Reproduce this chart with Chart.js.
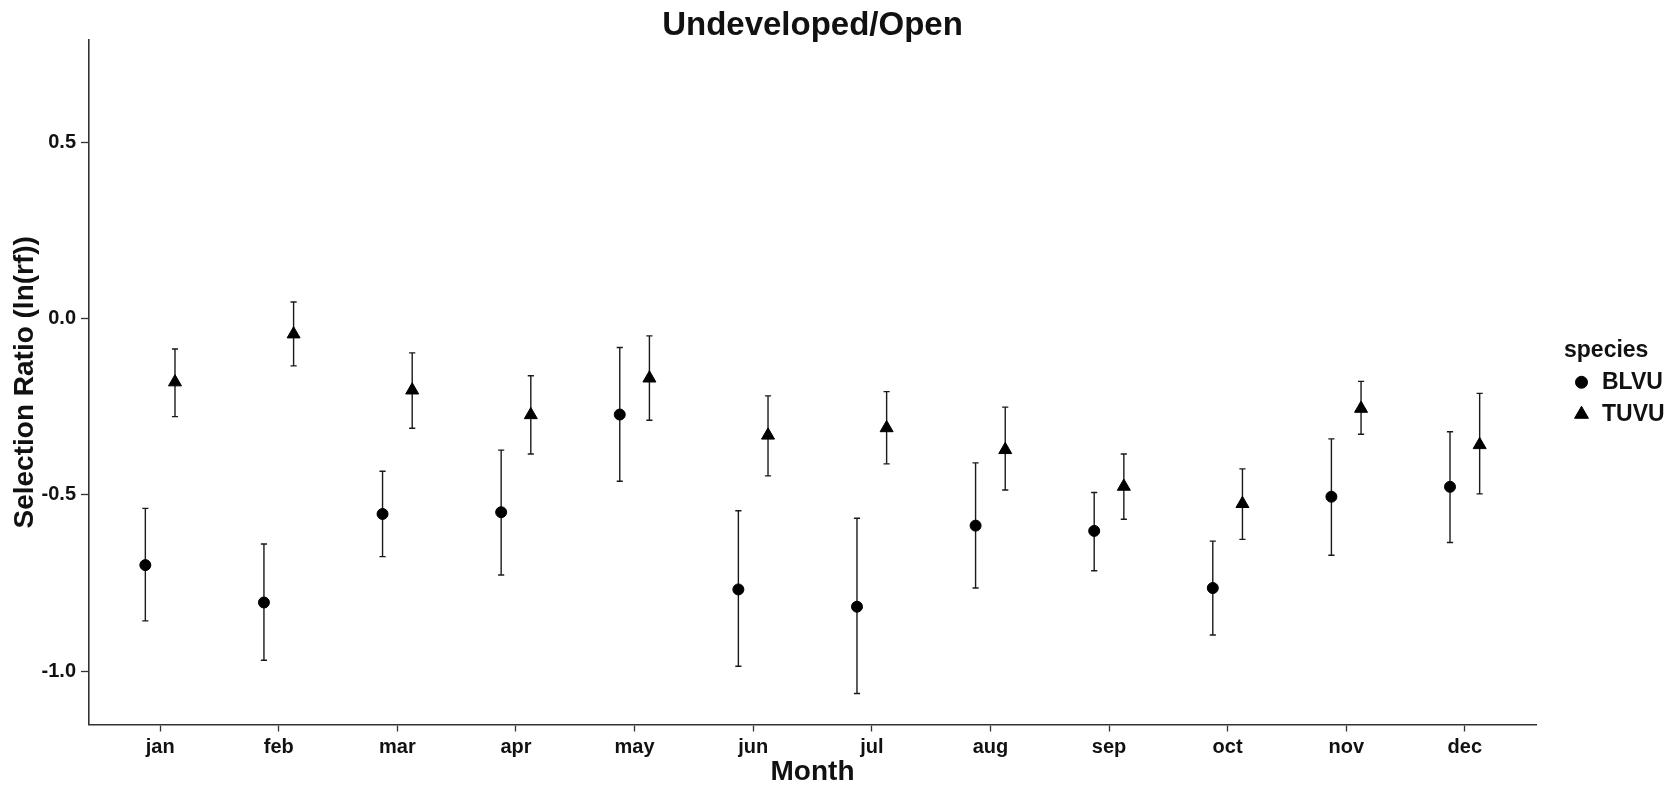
<!DOCTYPE html>
<html>
<head>
<meta charset="utf-8">
<title>Undeveloped/Open</title>
<script src="https://cdn.jsdelivr.net/npm/chart.js@4.4.1/dist/chart.umd.min.js"></script>
<style>
  html, body { margin: 0; padding: 0; background: #ffffff; }
  canvas { display: block; }
</style>
</head>
<body>
<canvas id="chart" width="1677" height="789"></canvas>
<script>
// Monthly selection ratios, ln(rf), with lower / upper interval bounds
const months = ['jan', 'feb', 'mar', 'apr', 'may', 'jun', 'jul', 'aug', 'sep', 'oct', 'nov', 'dec'];
const speciesNames = ['BLVU', 'TUVU'];

const blvuMean  = [-0.699, -0.805, -0.554, -0.549, -0.272, -0.768, -0.817, -0.587, -0.602, -0.764, -0.505, -0.477];
const blvuLower = [-0.857, -0.969, -0.675, -0.727, -0.461, -0.986, -1.063, -0.764, -0.715, -0.897, -0.671, -0.635];
const blvuUpper = [-0.538, -0.639, -0.433, -0.373, -0.082, -0.545, -0.566, -0.409, -0.493, -0.631, -0.341, -0.321];

const tuvuMean  = [-0.180, -0.044, -0.203, -0.273, -0.169, -0.331, -0.310, -0.372, -0.476, -0.525, -0.255, -0.358];
const tuvuLower = [-0.278, -0.134, -0.311, -0.384, -0.288, -0.446, -0.412, -0.486, -0.569, -0.626, -0.328, -0.497];
const tuvuUpper = [-0.086,  0.047, -0.097, -0.162, -0.049, -0.219, -0.207, -0.251, -0.384, -0.426, -0.178, -0.212];

const yTickValues = [0.5, 0.0, -0.5, -1.0];
const yTickLabels = ['0.5', '0.0', '-0.5', '-1.0'];

// side-by-side offset of the two species within a month (category units)
const dodge = 0.125;
const capHalfWidth = 0.026;

const FONT = "'Liberation Sans', Arial, Helvetica, sans-serif";
const INK = '#111111';

function seriesPoints(mean, lower, upper, shift) {
  return months.map((m, i) => ({ x: i + shift, y: mean[i], lo: lower[i], hi: upper[i] }));
}

// vertical interval bars with short caps, drawn beneath the markers
const errorBars = {
  id: 'errorBars',
  beforeDatasetsDraw(chart) {
    const { ctx, scales: { x, y } } = chart;
    ctx.save();
    ctx.strokeStyle = '#1a1a1a';
    ctx.lineWidth = 1.4;
    chart.data.datasets.forEach((ds, di) => {
      if (!chart.isDatasetVisible(di)) return;
      ds.data.forEach(p => {
        const px = x.getPixelForValue(p.x);
        const cl = x.getPixelForValue(p.x - capHalfWidth);
        const cr = x.getPixelForValue(p.x + capHalfWidth);
        const yl = y.getPixelForValue(p.lo);
        const yh = y.getPixelForValue(p.hi);
        ctx.beginPath();
        ctx.moveTo(px, yl); ctx.lineTo(px, yh);
        ctx.moveTo(cl, yl); ctx.lineTo(cr, yl);
        ctx.moveTo(cl, yh); ctx.lineTo(cr, yh);
        ctx.stroke();
      });
    });
    ctx.restore();
  }
};

// legend to the right of the panel: title plus one marker per species
const speciesLegend = {
  id: 'speciesLegend',
  afterDraw(chart, args, opts) {
    const { ctx, chartArea } = chart;
    const midY = (chartArea.top + chartArea.bottom) / 2;
    const x0 = chartArea.right + opts.titleOffset;
    ctx.save();
    ctx.fillStyle = INK;
    ctx.textBaseline = 'middle';
    ctx.textAlign = 'left';
    ctx.font = 'bold ' + opts.fontSize + 'px ' + FONT;
    ctx.fillText(opts.title, x0, midY - opts.titleRise);
    chart.data.datasets.forEach((ds, i) => {
      const iy = midY + opts.firstItemShift + i * opts.itemSpacing;
      ctx.fillStyle = ds.backgroundColor;
      ctx.strokeStyle = ds.borderColor;
      ctx.lineWidth = ds.borderWidth;
      Chart.helpers.drawPoint(ctx, {
        pointStyle: ds.pointStyle,
        radius: ds.legendRadius,
        borderWidth: ds.borderWidth,
        rotation: 0
      }, chartArea.right + opts.markerOffset, iy);
      ctx.fillStyle = INK;
      ctx.fillText(ds.label, chartArea.right + opts.textOffset, iy);
    });
    ctx.restore();
  }
};

const chart = new Chart(document.getElementById('chart'), {
  type: 'scatter',
  data: {
    datasets: [
      {
        label: speciesNames[0],
        data: seriesPoints(blvuMean, blvuLower, blvuUpper, -dodge),
        pointStyle: 'circle',
        pointRadius: 5.5,
        pointHoverRadius: 5.5,
        legendRadius: 6,
        backgroundColor: '#000000',
        borderColor: '#000000',
        borderWidth: 1
      },
      {
        label: speciesNames[1],
        data: seriesPoints(tuvuMean, tuvuLower, tuvuUpper, dodge),
        pointStyle: 'triangle',
        pointRadius: 7.5,
        pointHoverRadius: 7.5,
        legendRadius: 8,
        backgroundColor: '#000000',
        borderColor: '#000000',
        borderWidth: 1
      }
    ]
  },
  options: {
    responsive: false,
    devicePixelRatio: 1,
    animation: false,
    events: [],
    layout: { padding: { left: 0, right: 141, top: 0, bottom: 0 } },
    plugins: {
      legend: { display: false },
      tooltip: { enabled: false },
      title: {
        display: true,
        text: 'Undeveloped/Open',
        fullSize: false,
        color: INK,
        font: { family: FONT, size: 33, weight: 'bold', lineHeight: 0.85 },
        padding: { top: 12, bottom: 0 }
      },
      speciesLegend: {
        title: 'species',
        fontSize: 23,
        titleOffset: 28,
        titleRise: 32,
        markerOffset: 45.5,
        textOffset: 66,
        firstItemShift: 0,
        itemSpacing: 32
      }
    },
    scales: {
      x: {
        type: 'linear',
        min: -0.6,
        max: 11.6,
        afterFit(scale) { scale.height = 64.5; },
        afterBuildTicks(scale) { scale.ticks = months.map((m, i) => ({ value: i })); },
        grid: { drawOnChartArea: false, drawTicks: true, tickLength: 7, tickWidth: 1.3, tickColor: '#333333' },
        border: { display: true, color: '#333333', width: 1.6 },
        ticks: {
          autoSkip: false,
          maxRotation: 0,
          padding: 4,
          color: INK,
          font: { family: FONT, size: 20, weight: 'bold' },
          callback: (v) => months[Math.round(v)]
        },
        title: {
          display: true,
          text: 'Month',
          color: INK,
          font: { family: FONT, size: 28, weight: 'bold' },
          padding: { top: 0, bottom: 0 }
        }
      },
      y: {
        type: 'linear',
        min: -1.151,
        max: 0.790,
        afterFit(scale) { scale.width = 89; },
        afterBuildTicks(scale) { scale.ticks = yTickValues.map(v => ({ value: v })); },
        grid: { drawOnChartArea: false, drawTicks: true, tickLength: 8, tickWidth: 1.3, tickColor: '#333333' },
        border: { display: true, color: '#333333', width: 1.6 },
        ticks: {
          padding: 5,
          color: INK,
          font: { family: FONT, size: 20, weight: 'bold' },
          callback: (v) => yTickLabels[yTickValues.indexOf(v)]
        },
        title: {
          display: true,
          text: 'Selection Ratio (ln(rf))',
          color: INK,
          font: { family: FONT, size: 28, weight: 'bold' },
          padding: { top: 8.2, bottom: 0 }
        }
      }
    }
  },
  plugins: [errorBars, speciesLegend]
});
</script>
</body>
</html>
